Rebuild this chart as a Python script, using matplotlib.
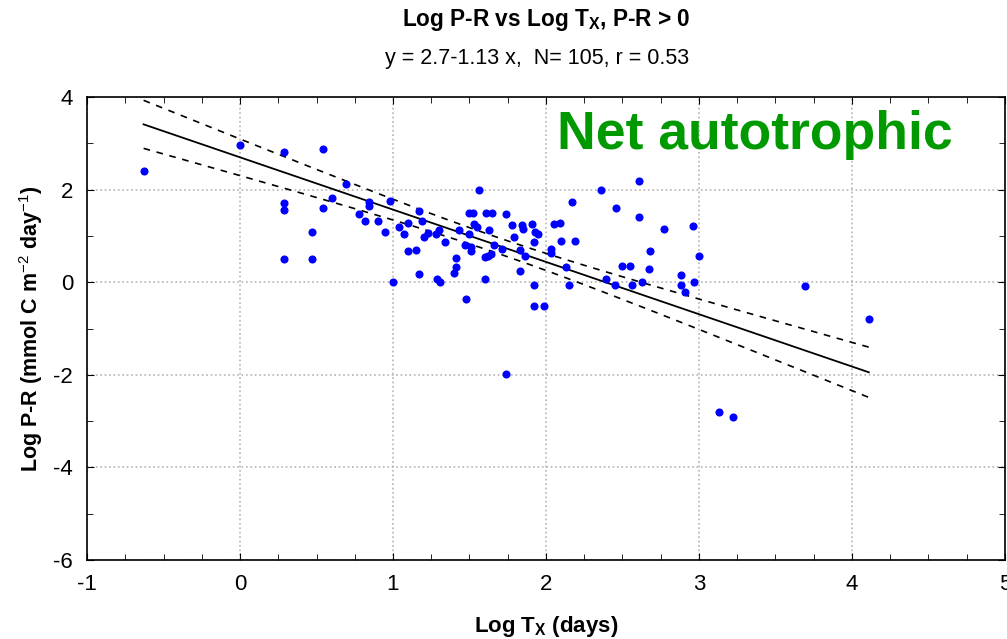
import numpy as np
import matplotlib.pyplot as plt
from matplotlib.ticker import MultipleLocator

plt.rcParams['font.family'] = ['Liberation Sans Narrow', 'Liberation Sans', 'DejaVu Sans']
plt.rcParams['mathtext.fontset'] = 'custom'
plt.rcParams['mathtext.rm'] = 'Liberation Sans'
plt.rcParams['mathtext.bf'] = 'Liberation Sans:bold'
plt.rcParams['axes.unicode_minus'] = False

# Данные: Log T_x (сутки) и Log P-R
log_tx = [-0.63, 0.00, 0.29, 0.54, 0.29, 0.29, 0.54, 0.60, 0.47, 0.29,
          0.47, 0.69, 0.84, 0.84, 0.78, 0.82, 0.90, 0.95, 0.98, 1.00,
          1.04, 1.07, 1.10, 1.17, 1.19, 1.20, 1.23, 1.28, 1.30, 1.34,
          1.10, 1.15, 1.17, 1.29, 1.31, 1.41, 1.41, 1.40, 1.43, 1.48,
          1.50, 1.52, 1.53, 1.55, 1.50, 1.47, 1.51, 1.51, 1.56, 1.61,
          1.65, 1.74, 1.63, 1.60, 1.62, 1.64, 1.66, 1.71, 1.78, 1.79,
          1.84, 1.85, 1.91, 1.93, 1.95, 1.92, 1.83, 1.86, 1.83, 1.60,
          1.92, 1.92, 1.99, 1.74, 2.03, 2.03, 2.05, 2.09, 2.17, 2.10,
          2.19, 2.13, 2.15, 2.36, 2.46, 2.61, 2.61, 2.77, 2.96, 2.68,
          3.00, 2.50, 2.55, 2.67, 2.39, 2.45, 2.56, 2.63, 2.88, 2.88,
          2.91, 2.97, 3.69, 4.11, 3.13, 3.22]
log_pr = [2.41, 2.96, 2.82, 2.89, 1.72, 1.56, 1.61, 1.82, 1.08, 0.50,
          0.50, 2.13, 1.73, 1.65, 1.47, 1.33, 1.33, 1.08, 1.76, 0.00,
          1.19, 1.05, 1.29, 1.53, 1.33, 0.98, 1.07, 1.04, 1.13, 0.88,
          0.67, 0.70, 0.18, 0.08, 0.01, 0.53, 0.32, 0.20, 1.13, -0.37,
          1.50, 1.50, 1.26, 1.19, 1.04, 0.80, 0.77, 0.67, 1.99, 1.50,
          1.50, 1.47, 1.12, 0.55, 0.57, 0.61, 0.81, 0.72, 1.23, 0.98,
          1.23, 1.15, 1.26, 1.09, 1.05, 0.87, 0.70, 0.57, 0.25, 0.08,
          -0.06, -0.51, -0.51, -1.98, 0.71, 0.64, 1.26, 1.29, 1.74, 0.90,
          0.90, 0.32, -0.06, 1.99, 1.60, 2.19, 1.40, 1.15, 1.22, 0.67,
          0.56, 0.35, 0.35, 0.29, 0.08, -0.06, -0.06, 0.01, 0.15, -0.06,
          -0.20, 0.01, -0.07, -0.80, -2.81, -2.91]

# уравнение регрессии из подписи графика
intercept = 2.7
slope = -1.13

x = np.array(log_tx)
y = np.array(log_pr)
n = len(x)

xs = np.linspace(x.min(), x.max(), 200)
yfit = intercept + slope * xs
s = np.sqrt(np.sum((y - (intercept + slope * x)) ** 2) / (n - 2))
sxx = np.sum((x - x.mean()) ** 2)
ci = 1.98 * s * np.sqrt(1 / n + (xs - x.mean()) ** 2 / sxx)

fig = plt.figure(figsize=(10.07, 6.39), dpi=100)
ax = fig.add_axes([0.0864, 0.1236, 0.9116, 0.7244])

ax.plot(xs, yfit, color='black', lw=1.3)
ax.plot(xs, yfit + ci, color='black', lw=1.2, ls=(0, (4, 4)))
ax.plot(xs, yfit - ci, color='black', lw=1.2, ls=(0, (4, 4)))
ax.scatter(x, y, s=34, color='#0000ff', zorder=3, linewidths=0)

ax.set_xlim(-1, 5)
ax.set_ylim(-6, 4)
ax.xaxis.set_major_locator(MultipleLocator(1))
ax.xaxis.set_minor_locator(MultipleLocator(0.25))
ax.yaxis.set_major_locator(MultipleLocator(2))
ax.yaxis.set_minor_locator(MultipleLocator(1))
ax.tick_params(which='both', direction='in', top=True, right=True, labelsize=16)
ax.tick_params(which='major', length=5, pad=10)
ax.tick_params(which='minor', length=4)
ax.grid(which='major', ls=':', color='#b4b4b4', lw=1.2)
for sp in ax.spines.values():
    sp.set_linewidth(1.2)

ax.set_xlabel(r'Log T$_{\mathbf{X}}$ (days)', fontsize=16, fontweight='bold', labelpad=14)
ax.set_ylabel(r'Log P-R (mmol C m$^{-2}$ day$^{-1}$)', fontsize=15.5, fontweight='bold',
              family=['Liberation Sans', 'DejaVu Sans'], labelpad=6)

fig.text(0.542, 0.968, r'Log P-R vs Log T$_{\mathbf{X}}$, P-R > 0', ha='center', va='center',
         fontsize=16.3, fontweight='bold')
fig.text(0.533, 0.908, 'y = 2.7-1.13 x,  N= 105, r = 0.53', ha='center', va='center',
         fontsize=15.5)

ax.text(0.512, 0.918, 'Net autotrophic', transform=ax.transAxes, ha='left', va='center',
        fontsize=38.5, fontweight='bold', color='#009a00',
        family=['Liberation Sans', 'DejaVu Sans'])

plt.savefig('out.png', dpi=100)
